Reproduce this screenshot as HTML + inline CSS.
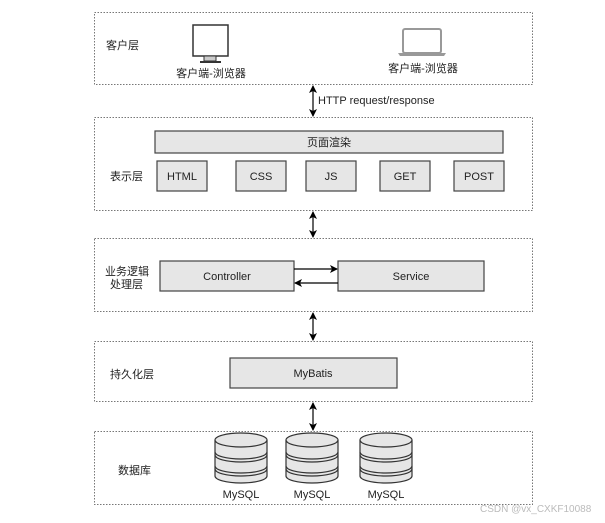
<!DOCTYPE html>
<html><head><meta charset="utf-8"><style>
body{margin:0;background:#fff;}
svg text{font-family:"Liberation Sans","Noto Sans CJK SC",sans-serif;font-size:11px;fill:#222;}
</style></head><body>
<svg width="605" height="518" viewBox="0 0 605 518" xmlns="http://www.w3.org/2000/svg">
<defs>
<marker id="a" markerWidth="8" markerHeight="8" refX="7" refY="4" orient="auto-start-reverse" markerUnits="userSpaceOnUse"><path d="M0,0 L8,4 L0,8 L2,4z" fill="#000"/></marker>
<g id="db"><path d="M-26,-18 v36 a26,7 0 0 0 52,0 v-36" fill="#e6e6e6" stroke="#333" stroke-width="1.2"/>
<ellipse cx="0" cy="-18" rx="26" ry="7" fill="#e6e6e6" stroke="#333" stroke-width="1.2"/>
<path d="M-26,-6 a26,7 0 0 0 52,0 M-26,-3 a26,7 0 0 0 52,0 M-26,8 a26,7 0 0 0 52,0 M-26,11 a26,7 0 0 0 52,0" fill="none" stroke="#333" stroke-width="1.2"/></g>
</defs>
<g fill="none" stroke="#777" stroke-dasharray="1.5,1.5" stroke-width="1">
<rect x="94.5" y="12.5" width="438" height="72"/>
<rect x="94.5" y="117.5" width="438" height="93"/>
<rect x="94.5" y="238.5" width="438" height="73"/>
<rect x="94.5" y="341.5" width="438" height="60"/>
<rect x="94.5" y="431.5" width="438" height="73"/>
</g>
<text x="106" y="49">客户层</text>
<text x="110" y="180">表示层</text>
<text x="105" y="275">业务逻辑</text>
<text x="110" y="288">处理层</text>
<text x="110" y="378">持久化层</text>
<text x="118" y="474">数据库</text>
<rect x="193" y="25" width="35" height="31" fill="#fff" stroke="#333" stroke-width="1.5"/>
<rect x="204" y="56" width="12" height="5" fill="#ccc" stroke="#333"/>
<rect x="200" y="61" width="21" height="2" fill="#333"/>
<text x="211" y="77" text-anchor="middle">客户端-浏览器</text>
<rect x="403" y="29" width="38" height="24" rx="2" fill="#fff" stroke="#999" stroke-width="2"/>
<path d="M398,53 h48 l-2,3 h-44z" fill="#999"/>
<text x="423" y="72" text-anchor="middle">客户端-浏览器</text>
<g fill="#e6e6e6" stroke="#444" stroke-width="1.2">
<rect x="155" y="131" width="348" height="22"/>
<rect x="157" y="161" width="50" height="30"/>
<rect x="236" y="161" width="50" height="30"/>
<rect x="306" y="161" width="50" height="30"/>
<rect x="380" y="161" width="50" height="30"/>
<rect x="454" y="161" width="50" height="30"/>
<rect x="160" y="261" width="134" height="30"/>
<rect x="338" y="261" width="146" height="30"/>
<rect x="230" y="358" width="167" height="30"/>
</g>
<g text-anchor="middle">
<text x="329" y="146">页面渲染</text>
<text x="182" y="180">HTML</text><text x="261" y="180">CSS</text><text x="331" y="180">JS</text><text x="405" y="180">GET</text><text x="479" y="180">POST</text>
<text x="227" y="280">Controller</text><text x="411" y="280">Service</text>
<text x="313" y="377">MyBatis</text>
<text x="241" y="498">MySQL</text><text x="312" y="498">MySQL</text><text x="386" y="498">MySQL</text>
</g>
<g stroke="#000" stroke-width="1.2" marker-start="url(#a)" marker-end="url(#a)">
<line x1="313" y1="86" x2="313" y2="116"/>
<line x1="313" y1="212" x2="313" y2="237"/>
<line x1="313" y1="313" x2="313" y2="340"/>
<line x1="313" y1="403" x2="313" y2="430"/>
</g>
<line x1="294" y1="269" x2="337" y2="269" stroke="#000" stroke-width="1.2" marker-end="url(#a)"/>
<line x1="338" y1="283" x2="295" y2="283" stroke="#000" stroke-width="1.2" marker-end="url(#a)"/>
<text x="318" y="104">HTTP request/response</text>
<use href="#db" x="241" y="458"/><use href="#db" x="312" y="458"/><use href="#db" x="386" y="458"/>
<text x="480" y="512" style="fill:#bbb;font-size:10px">CSDN @vx_CXKF10088</text>
</svg>
</body></html>
